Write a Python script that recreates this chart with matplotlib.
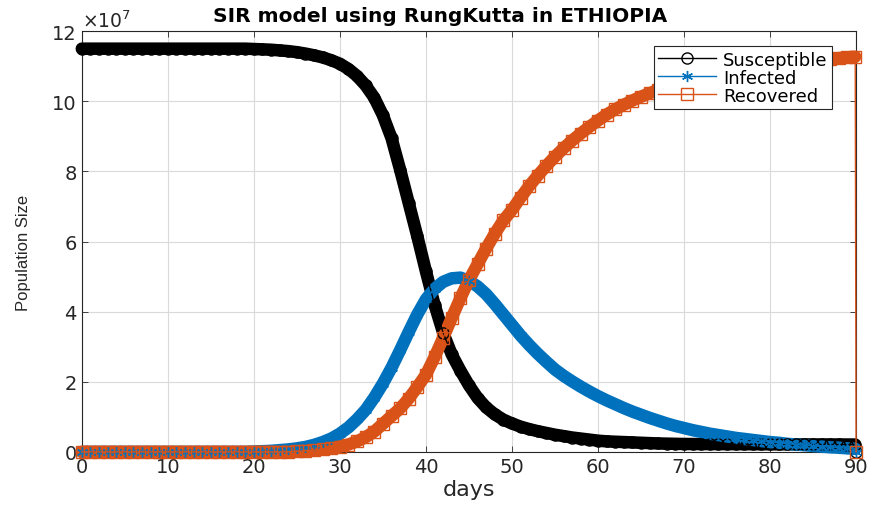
import numpy as np
from matplotlib import pyplot as plt

plt.rcParams['font.family'] = ['DejaVu Sans']

# days 0..89, last stored state at 89.9, then the unfilled zero at 90
days = np.r_[np.arange(0, 90), 89.9, 90.0]

# population values in units of 1e7
susceptible = [11.50]*20 + [
	11.49, 11.48, 11.47, 11.45, 11.43, 11.40, 11.36, 11.31, 11.25, 11.17,
	11.07, 10.92, 10.72, 10.45, 10.10, 9.60, 8.95, 8.05, 7.10, 6.15,
	5.15, 4.20, 3.40, 2.78, 2.32, 1.90, 1.54, 1.27, 1.07, 0.92,
	0.81, 0.72, 0.65, 0.59, 0.54, 0.49, 0.45, 0.41, 0.38, 0.35,
	0.32, 0.30, 0.29, 0.28, 0.27, 0.26, 0.25, 0.24, 0.235, 0.23,
	0.225, 0.224, 0.223, 0.222, 0.221, 0.22, 0.22, 0.219, 0.218, 0.217,
	0.216, 0.215, 0.215, 0.214, 0.213, 0.212, 0.212, 0.211, 0.211, 0.21,
	0.21, 0.0]
infected = [0.0]*20 + [
	0.01, 0.02, 0.03, 0.05, 0.07, 0.10, 0.14, 0.20, 0.28, 0.38,
	0.52, 0.70, 0.93, 1.20, 1.55, 1.95, 2.40, 2.90, 3.42, 3.92,
	4.35, 4.65, 4.85, 4.95, 4.97, 4.88, 4.72, 4.50, 4.22, 3.92,
	3.62, 3.32, 3.05, 2.80, 2.57, 2.35, 2.17, 2.01, 1.86, 1.72,
	1.59, 1.47, 1.36, 1.25, 1.15, 1.06, 0.97, 0.89, 0.81, 0.74,
	0.68, 0.62, 0.57, 0.52, 0.48, 0.44, 0.40, 0.37, 0.34, 0.31,
	0.28, 0.26, 0.23, 0.21, 0.19, 0.17, 0.15, 0.13, 0.12, 0.10,
	0.09, 0.0]
recovered = [0.0]*25 + [
	0.02, 0.03, 0.05, 0.08, 0.11,
	0.15, 0.21, 0.30, 0.42, 0.58, 0.80, 1.02, 1.24, 1.52, 1.85,
	2.20, 2.70, 3.25, 3.82, 4.38, 4.90, 5.35, 5.80, 6.22, 6.60,
	6.90, 7.25, 7.58, 7.88, 8.16, 8.42, 8.66, 8.88, 9.08, 9.27,
	9.45, 9.62, 9.77, 9.90, 10.02, 10.13, 10.23, 10.32, 10.40, 10.48,
	10.55, 10.62, 10.68, 10.74, 10.79, 10.84, 10.88, 10.92, 10.96, 11.00,
	11.03, 11.06, 11.09, 11.12, 11.15, 11.17, 11.19, 11.21, 11.23, 11.25,
	11.27, 0.0]

series = [
	('Susceptible', susceptible, 'k', 'o'),
	('Infected', infected, '#0072BD', (6, 2, 0)),
	('Recovered', recovered, '#D95319', 's'),
]

#plot:
plt.close('all')
fig = plt.figure(figsize=(8.7, 5.1), dpi=100)
ax = fig.add_axes([0.094, 0.112, 0.890, 0.825])
for name,vals,c,m in series:
	y = np.array(vals) * 1e7
	ax.plot(days[:-1], y[:-1], color=c, lw=9, solid_capstyle='round', zorder=2, clip_on=False)
	ax.plot(days, y, '-', color=c, marker=m, ms=8, mew=1.0, mfc='none', lw=1,
			label=name, zorder=3, clip_on=False)

ax.set_xlim(0, 90)
ax.set_ylim(0, 12e7)
ax.set_xticks(np.arange(0, 91, 10))
ax.set_yticks(np.arange(0, 13, 2) * 1e7)
ax.set_yticklabels([str(v) for v in range(0, 13, 2)])
ax.tick_params(direction='in', top=True, right=True, labelsize=14, colors='#262626',
			   length=4, width=0.6)
ax.grid(True, color='#dadada', lw=0.8)
ax.set_axisbelow(True)
for s in ax.spines.values():
	s.set_color('#262626')
	s.set_linewidth(0.8)
	s.set_zorder(1)

ax.text(0.0, 1.0, r'$\times10^{7}$', transform=ax.transAxes, ha='left', va='bottom',
		fontsize=13.5, color='#262626')
ax.set_title('SIR model using RungKutta in ETHIOPIA', fontsize=14.5, fontweight='bold',
			 x=0.4625, pad=7)
ax.set_xlabel('days', fontsize=16, color='#262626', labelpad=2)
ax.set_ylabel('Population Size', fontsize=12, family='Liberation Sans', color='#262626')
ax.yaxis.set_label_coords(-0.066, 0.475)

leg = ax.legend(loc='upper right', bbox_to_anchor=(0.969, 0.964), borderaxespad=0,
				fontsize=13, fancybox=False, framealpha=1, edgecolor='#262626',
				handlelength=3.2, borderpad=0.25, labelspacing=0.0, handletextpad=0.4)
leg.get_frame().set_linewidth(0.8)
for h in leg.legend_handles:
	h.set_markersize(8)

fig.savefig('out.png', dpi=100)
